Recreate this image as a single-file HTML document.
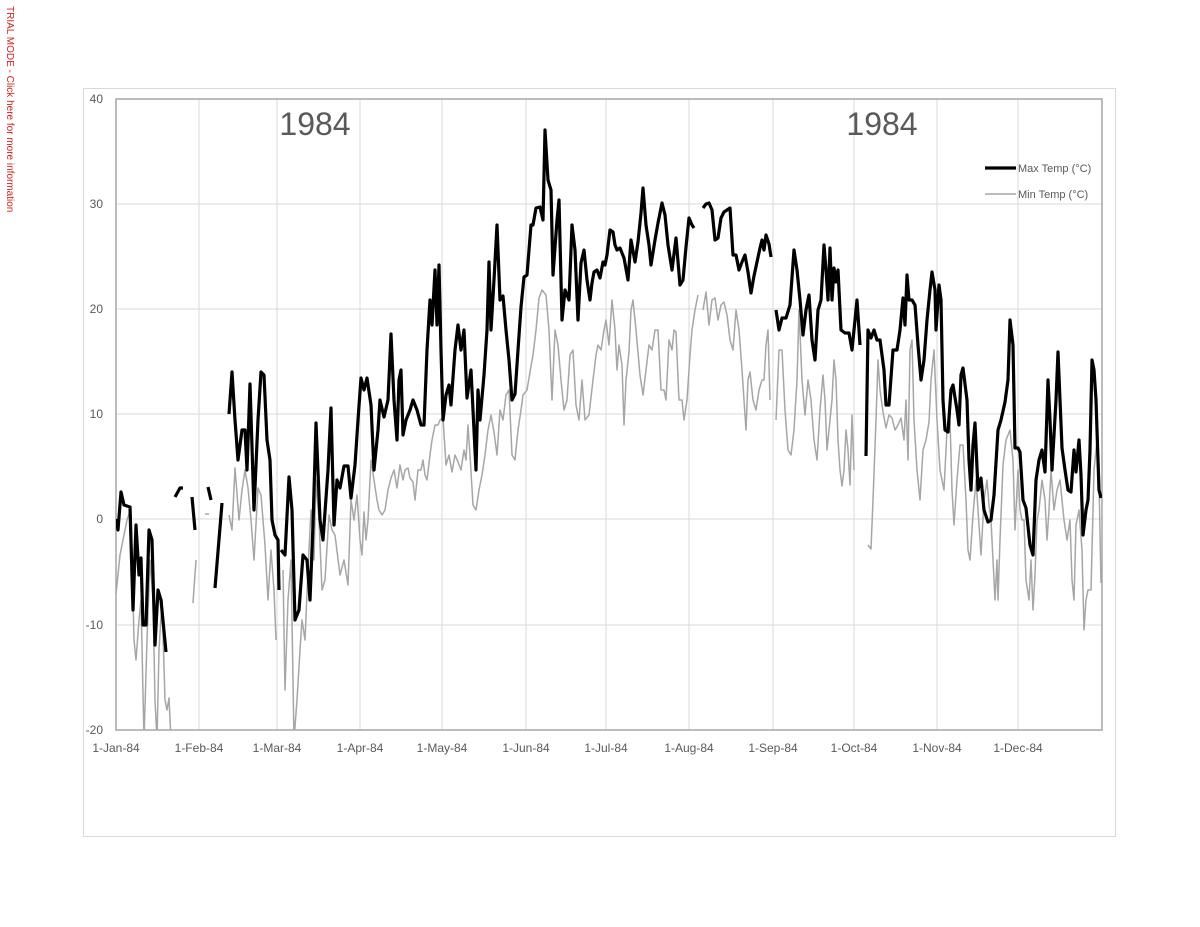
<!DOCTYPE html>
<html><head><meta charset="utf-8"><style>
body{margin:0;background:#fff;}
svg{display:block;font-family:"Liberation Sans",sans-serif;}
</style></head><body>
<svg width="1200" height="927" xmlns="http://www.w3.org/2000/svg">
<text transform="translate(7,6) rotate(90)" font-size="10" fill="#d02020">TRIAL MODE - Click here for more information</text>
<rect x="83.5" y="88.5" width="1032" height="748" fill="#fff" stroke="#d9d9d9"/>
<defs><clipPath id="c"><rect x="116" y="99" width="986" height="631"/></clipPath></defs>
<g stroke="#d9d9d9" stroke-width="1">
<line x1="116" y1="204" x2="1102" y2="204"/><line x1="116" y1="309" x2="1102" y2="309"/>
<line x1="116" y1="414" x2="1102" y2="414"/><line x1="116" y1="519" x2="1102" y2="519"/>
<line x1="116" y1="625" x2="1102" y2="625"/>
<line x1="199" y1="99" x2="199" y2="730"/><line x1="277" y1="99" x2="277" y2="730"/>
<line x1="360" y1="99" x2="360" y2="730"/><line x1="442" y1="99" x2="442" y2="730"/>
<line x1="526" y1="99" x2="526" y2="730"/><line x1="606" y1="99" x2="606" y2="730"/>
<line x1="689" y1="99" x2="689" y2="730"/><line x1="773" y1="99" x2="773" y2="730"/>
<line x1="854" y1="99" x2="854" y2="730"/><line x1="937" y1="99" x2="937" y2="730"/>
<line x1="1018" y1="99" x2="1018" y2="730"/>
</g>
<rect x="116" y="99" width="986" height="631" fill="none" stroke="#a6a6a6" stroke-width="1.5"/>
<g font-size="12" fill="#595959" text-anchor="end">
<text x="103" y="103">40</text><text x="103" y="208">30</text><text x="103" y="313">20</text>
<text x="103" y="418">10</text><text x="103" y="523">0</text><text x="103" y="629">-10</text><text x="103" y="734">-20</text>
</g>
<g font-size="12" fill="#595959" text-anchor="middle">
<text x="116" y="752">1-Jan-84</text><text x="199" y="752">1-Feb-84</text><text x="277" y="752">1-Mar-84</text>
<text x="360" y="752">1-Apr-84</text><text x="442" y="752">1-May-84</text><text x="526" y="752">1-Jun-84</text>
<text x="606" y="752">1-Jul-84</text><text x="689" y="752">1-Aug-84</text><text x="773" y="752">1-Sep-84</text>
<text x="854" y="752">1-Oct-84</text><text x="937" y="752">1-Nov-84</text><text x="1018" y="752">1-Dec-84</text>
</g>
<text x="315" y="135" font-size="32" fill="#595959" text-anchor="middle">1984</text>
<text x="882" y="135" font-size="32" fill="#595959" text-anchor="middle">1984</text>
<g clip-path="url(#c)" fill="none" stroke="#a6a6a6" stroke-width="1.5" stroke-linejoin="round">
<polyline points="116,594 120,555 124,535 127,520 131,508 134,640 136,660 139,620 141,600 144,740 147,640 150,560 153,600 155,700 157,740 159,650 162,600 165,700 167,710 169,698 171,740"/>
<polyline points="193,603 196,560"/>
<polyline points="205,514 209,514"/>
<polyline points="229,515 232,530 235,468 239,520 242,490 245,470 248,488 251,520 254,560 258,488 261,495 265,545 268,600 271,550 274,590 276,640"/>
<polyline points="283,570 285,690 288,600 291,560 294,740 297,700 300,650 302,620 305,640 308,570 311,510 314,560 316,480 319,520 322,590 325,580 329,515 332,530 335,535 340,575 344,560 348,585 351,500 354,520 357,495 360,540 362,555 364,512 366,540 368,520 371,460 374,480 377,500 379,510 382,515 385,510 388,490 391,478 394,470 397,488 400,465 403,480 405,470 408,468 410,478 413,482 415,500 418,470 421,470 423,460 425,475 427,480 430,455 432,440 435,425 438,425 440,420 443,418 446,465 449,455 452,472 455,455 458,462 461,470 464,450 466,460 468,425 470,455 473,505 476,510 479,490 482,475 485,455 488,430 491,415 494,432 497,455 500,410 503,420 506,395 509,390 512,455 515,460 518,430 521,410 523,395 527,390 530,372 533,355 536,330 539,298 542,290 546,295 549,330 552,400 555,330 558,345 561,380 564,410 567,400 570,355 573,350 576,405 579,420 582,380 585,420 589,415 593,380 596,355 598,345 601,350 604,330 606,320 609,345 612,300 615,330 617,370 619,345 622,365 624,425 626,380 629,352 631,310 633,300 636,330 640,375 643,395 646,370 649,345 652,350 655,330 658,330 661,390 664,390 666,400 669,340 672,350 674,330 676,332 679,400 682,400 684,420 687,400 690,355 692,330 695,310 698,295"/>
<polyline points="703,310 706,292 709,325 712,300 715,298 718,320 721,305 724,302 727,315 730,340 733,350 736,310 739,330 742,370 744,400 746,430 748,380 750,372 753,400 756,410 759,390 762,380 764,380 766,345 768,330 770,400"/>
<polyline points="776,420 779,350 782,350 785,410 788,450 791,455 794,430 797,380 799,310 802,380 805,415 808,380 811,400 814,440 817,460 820,410 823,375 825,400 827,450 830,420 832,400 834,360 836,380 838,440 840,470 842,486 844,470 846,430 848,450 850,485 852,415 854,470"/>
<polyline points="868,545 871,549 873,500 876,420 878,360 880,390 883,412 886,428 889,415 892,418 895,430 898,425 901,418 904,440 906,400 908,460 910,350 912,340 914,420 917,470 920,500 923,450 926,440 929,422 931,380 934,350 937,420 940,470 944,490 947,430 950,420 952,490 954,525 957,480 960,445 963,445 966,500 968,550 970,560 973,515 976,480 978,510 981,555 984,500 987,480 989,505 991,520 993,560 995,600 997,560 998,600 1000,540 1003,465 1006,440 1010,430 1013,460 1015,530 1018,470 1020,510 1022,520 1024,520 1026,580 1029,600 1031,560 1033,610 1035,575 1037,520 1039,510 1042,480 1045,500 1047,540 1049,510 1051,470 1054,510 1057,490 1060,480 1062,500 1064,520 1067,540 1070,520 1072,580 1074,600 1076,525 1079,510 1082,550 1084,630 1086,600 1088,590 1091,590 1094,470 1097,440 1099,480 1101,583"/>
</g>
<g clip-path="url(#c)" fill="none" stroke="#000" stroke-width="3.2" stroke-linejoin="round">
<polyline points="116,519 118,530 121,492 124,505 130,507 133,610 136,525 139,575 141,558 143,625 146,625 149,530 152,540 155,645 158,590 161,600 166,652"/>
<polyline points="175,497 180,488 183,488"/>
<polyline points="192,497 195,530"/>
<polyline points="208,487 211,500"/>
<polyline points="215,588 222,503"/>
<polyline points="229,414 232,372 235,420 238,460 242,430 245,430 247,470 250,384 254,510 258,420 261,372 264,375 267,440 270,460 272,520 275,535 278,540 279,590"/>
<polyline points="281,550 285,555 289,477 292,510 295,620 299,610 303,555 307,560 310,600 313,525 316,423 320,520 323,540 328,470 331,408 334,525 337,480 340,488 344,466 348,466 351,498 355,465 358,420 361,378 364,390 367,378 371,405 374,470 378,430 380,400 384,417 388,400 391,334 394,400 397,440 399,380 401,370 403,435 406,420 410,410 413,400 417,410 421,425 424,425 427,350 430,300 432,325 435,270 437,325 439,265 441,350 443,420 446,395 449,385 451,405 455,350 458,325 461,350 464,330 467,398 471,370 474,430 476,470 478,390 480,420 484,375 487,330 489,262 491,330 494,280 497,225 500,300 503,296 506,330 509,360 512,400 515,394 518,350 521,307 524,277 527,275 531,225 533,225 536,208 540,207 543,220 545,130 548,180 551,190 553,275 557,220 559,200 562,320 565,290 569,300 572,225 575,250 578,320 581,263 584,250 587,280 590,300 592,283 594,272 597,270 600,278 603,262 605,265 607,255 610,230 613,232 615,245 617,250 620,248 624,258 628,280 631,240 635,262 638,242 641,213 643,188 646,225 649,245 651,265 655,240 658,223 662,203 665,215 668,245 672,270 676,238 680,285 683,280 686,247 689,218 692,225 694,228"/>
<polyline points="703,208 706,204 709,203 712,210 715,240 718,238 721,218 724,212 727,210 730,208 733,255 736,255 739,270 742,262 745,255 748,272 751,293 754,276 757,262 760,248 762,240 764,250 766,235 769,244 771,257"/>
<polyline points="776,310 779,330 782,318 786,318 790,305 794,250 797,270 800,300 803,335 806,310 809,295 812,340 815,360 818,310 821,300 824,245 826,270 828,300 830,248 832,300 834,268 836,282 838,270 841,330 845,333 849,333 852,350 855,320 857,300 860,345"/>
<polyline points="866,456 868,330 871,338 874,330 877,340 880,340 884,370 886,405 889,405 893,350 897,350 900,330 903,298 905,325 907,275 909,300 912,300 915,305 918,345 921,380 924,360 927,320 930,290 932,272 935,290 936,330 939,285 941,300 943,400 945,430 948,432 951,390 953,385 957,410 959,425 961,375 963,368 967,400 969,460 971,490 973,445 975,423 978,490 981,478 984,510 988,522 991,520 994,495 998,430 1001,420 1005,402 1008,380 1010,320 1013,345 1015,448 1018,448 1020,452 1023,500 1026,508 1030,545 1033,555 1036,480 1039,460 1042,450 1045,472 1048,380 1050,420 1052,470 1054,435 1056,400 1058,352 1060,400 1062,448 1065,470 1068,490 1071,492 1074,450 1076,472 1079,440 1081,475 1083,535 1086,510 1088,500 1090,450 1092,360 1094,370 1096,400 1099,490 1101,498"/>
</g>
<line x1="985" y1="168" x2="1016" y2="168" stroke="#000" stroke-width="3.2"/>
<line x1="985" y1="194" x2="1016" y2="194" stroke="#a6a6a6" stroke-width="1.5"/>
<text x="1018" y="172" font-size="11" fill="#595959">Max Temp (°C)</text>
<text x="1018" y="198" font-size="11" fill="#595959">Min Temp (°C)</text>
</svg>
</body></html>
